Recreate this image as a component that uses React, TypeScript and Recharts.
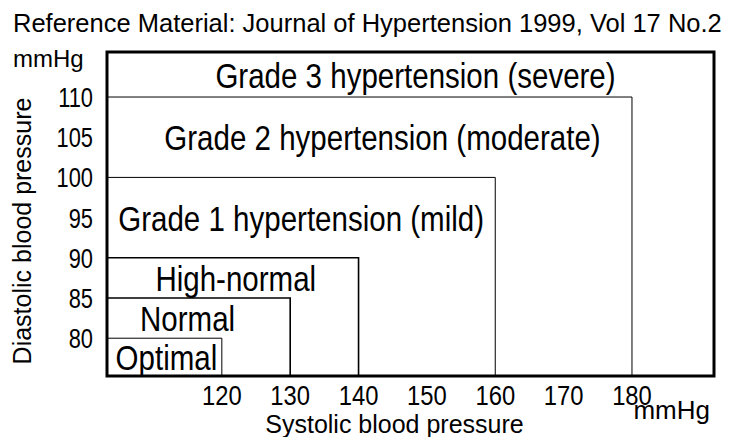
import { ComposedChart, XAxis, YAxis, ReferenceArea, Label } from 'recharts';

// blood pressure classes, innermost first
const categories = [
  'Optimal',
  'Normal',
  'High-normal',
  'Grade 1 hypertension (mild)',
  'Grade 2 hypertension (moderate)',
  'Grade 3 hypertension (severe)',
];
// upper limits of each class (mmHg); grade 3 is open-ended
const systolicLimits = [120, 130, 140, 160, 180];
const diastolicLimits = [80, 85, 90, 100, 110];

const systolicTicks = [120, 130, 140, 150, 160, 170, 180];
const diastolicTicks = [80, 85, 90, 95, 100, 105, 110];

const titleText = 'Reference Material: Journal of Hypertension 1999, Vol 17 No.2';
const unitText = 'mmHg';

// axis extents
const X_MIN = 103.2;
const X_MAX = 192;
const Y_MIN = 75.3;
const Y_MAX = 115.6;

const SANS = '"Liberation Sans", Arial, sans-serif';

const boxStroke = [1, 1.6, 1.6, 1, 1];
const labelDx = [2, -11, 3, 0, 13, 5];

// Arial Narrow isn't available, so squeeze Liberation Sans horizontally
function NarrowText({ x, y, size, sx, anchor, children }: any) {
  return (
    <text
      transform={`translate(${x},${y}) scale(${sx},1)`}
      x={0}
      y={0}
      textAnchor={anchor}
      fontSize={size}
      fontFamily={SANS}
      fill="#000"
    >
      {children}
    </text>
  );
}

function YTick({ x, y, payload }: any) {
  return (
    <NarrowText x={x} y={y + 10} size={28} sx={0.78} anchor="end">
      {payload.value}
    </NarrowText>
  );
}

function XTick({ x, y, payload }: any) {
  return (
    <NarrowText x={x} y={y + 20} size={28} sx={0.85} anchor="middle">
      {payload.value}
    </NarrowText>
  );
}

function BandLabel({ viewBox, text, dx }: any) {
  if (!viewBox) return null;
  const cx = viewBox.x + viewBox.width / 2 + dx;
  const cy = viewBox.y + viewBox.height / 2;
  return (
    <NarrowText x={cx} y={cy + 13} size={36} sx={0.82} anchor="middle">
      {text}
    </NarrowText>
  );
}

export default function App() {
  const data = systolicLimits.map((s, i) => ({ name: categories[i], systolic: s, diastolic: diastolicLimits[i] }));

  const bands = categories.map((name, i) => ({
    name,
    x2: i < systolicLimits.length ? systolicLimits[i] : X_MAX,
    y1: i === 0 ? Y_MIN : diastolicLimits[i - 1],
    y2: i < diastolicLimits.length ? diastolicLimits[i] : Y_MAX,
  }));

  return (
    <div style={{ position: 'absolute', left: 0, top: 0, width: 737, height: 437, background: '#fff' }}>
      <ComposedChart
        width={737}
        height={437}
        data={data}
        margin={{ top: 52, right: 23, left: 0, bottom: 0 }}
      >
        <XAxis
          type="number"
          dataKey="systolic"
          domain={[X_MIN, X_MAX]}
          allowDataOverflow
          ticks={systolicTicks}
          axisLine={false}
          tickLine={false}
          tickSize={0}
          tickMargin={9}
          height={61}
          tick={<XTick />}
        >
          <Label value="Systolic blood pressure" position="insideBottom" offset={4} dx={-16} fill="#000" fontSize={25} fontFamily={SANS} />
          <Label value={unitText} position="insideBottomRight" offset={4} dy={-14} fill="#000" fontSize={26} fontFamily={SANS} />
        </XAxis>
        <YAxis
          type="number"
          dataKey="diastolic"
          domain={[Y_MIN, Y_MAX]}
          allowDataOverflow
          ticks={diastolicTicks}
          axisLine={false}
          tickLine={false}
          tickSize={0}
          tickMargin={14}
          width={107}
          tick={<YTick />}
        >
          <Label value="Diastolic blood pressure" position="center" angle={-90} dx={-31} dy={17} fill="#000" fontSize={25} fontFamily={SANS} />
          <Label value={unitText} position="insideTopLeft" offset={13} dy={-15} fill="#000" fontSize={24} fontFamily={SANS} />
        </YAxis>

        {/* outlines of each class, drawn from the lower-left corner */}
        {systolicLimits.map((s, i) => (
          <ReferenceArea
            key={'box-' + i}
            x1={X_MIN}
            x2={s}
            y1={Y_MIN}
            y2={diastolicLimits[i]}
            fill="none"
            fillOpacity={0}
            stroke="#000"
            strokeWidth={boxStroke[i]}
          />
        ))}
        {/* outer frame = grade 3 */}
        <ReferenceArea x1={X_MIN} x2={X_MAX} y1={Y_MIN} y2={Y_MAX} fill="none" fillOpacity={0} stroke="#000" strokeWidth={3} />

        {bands.map((b, i) => (
          <ReferenceArea
            key={'band-' + i}
            x1={X_MIN}
            x2={b.x2}
            y1={b.y1}
            y2={b.y2}
            fill="none"
            fillOpacity={0}
            stroke="none"
          >
            <Label content={(p: any) => <BandLabel viewBox={p.viewBox} text={b.name} dx={labelDx[i]} />} />
          </ReferenceArea>
        ))}
      </ComposedChart>
      <svg width={737} height={40} style={{ position: 'absolute', left: 0, top: 0, pointerEvents: 'none' }}>
        <text x={13} y={32} fontSize={25.5} fontFamily={SANS} fill="#000">{titleText}</text>
      </svg>
    </div>
  );
}
